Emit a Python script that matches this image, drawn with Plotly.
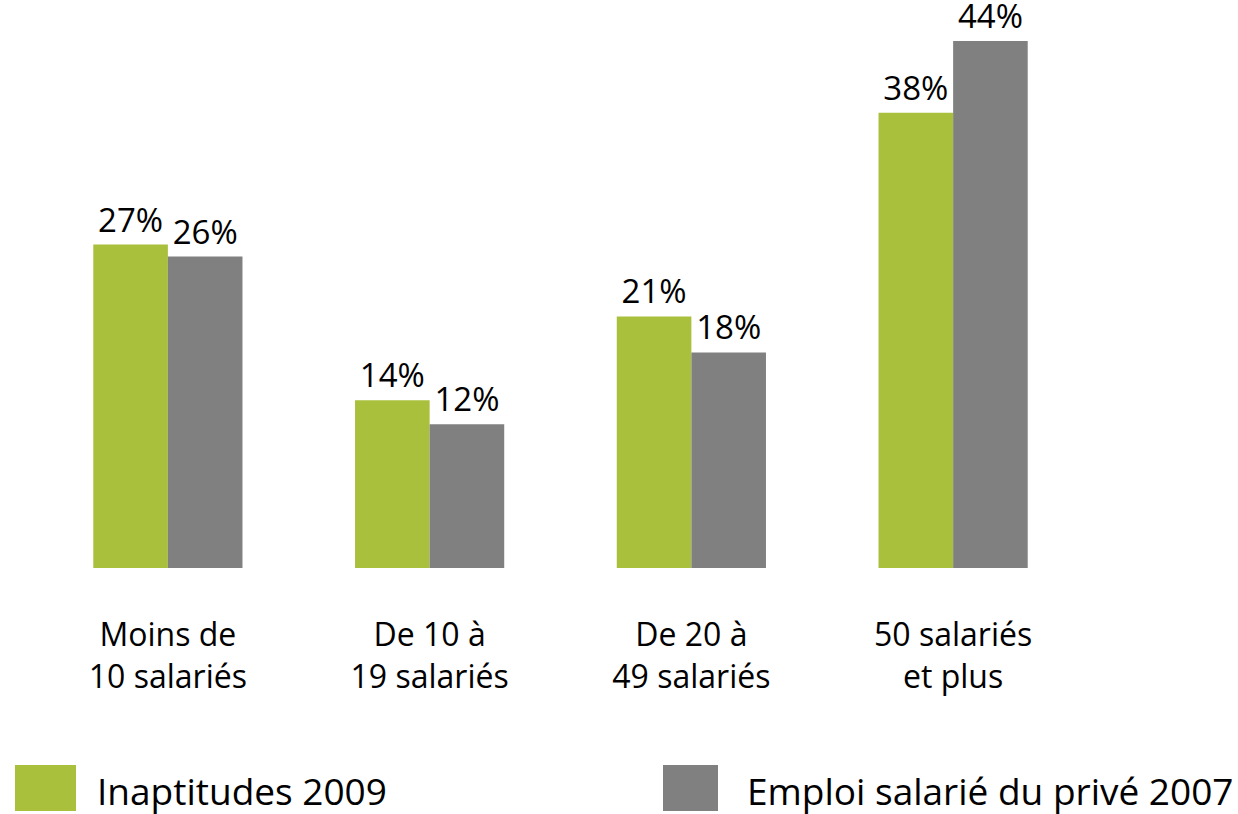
import plotly.graph_objects as go

categories = ["Moins de<br>10 salariés", "De 10 à<br>19 salariés", "De 20 à<br>49 salariés", "50 salariés<br>et plus"]
inaptitudes_2009 = [27, 14, 21, 38]
emploi_2007 = [26, 12, 18, 44]
series_names = ["Inaptitudes 2009", "Emploi salarié du privé 2007"]
GREEN = "#A9C03D"
GRAY = "#808080"
FONT = "Open Sans"

W, H = 1238, 814
ML, MR, MT, MB = 37, 154, 17, 246

def px_x(p):
    return (p - ML) / (W - ML - MR)

def px_y(p):
    return (H - MB - p) / (H - MT - MB)

fig = go.Figure()
for name, vals, col in [(series_names[0], inaptitudes_2009, GREEN), (series_names[1], emploi_2007, GRAY)]:
    fig.add_trace(go.Bar(
        x=list(range(len(categories))), y=vals, name=name,
        marker=dict(color=col, line=dict(width=0)),
        text=[f"{v}%" for v in vals], textposition="outside",
        textfont=dict(family=FONT, size=33, color="black"),
        cliponaxis=False, showlegend=False,
    ))

# custom legend
legend_items = [
    (series_names[0], GREEN, 15, 76, 95),
    (series_names[1], GRAY, 663, 718, 745),
]
for name, col, x0, x1, tx in legend_items:
    fig.add_shape(type="rect", xref="paper", yref="paper",
                  x0=px_x(x0), x1=px_x(x1), y0=px_y(811), y1=px_y(765),
                  fillcolor=col, line=dict(width=0))
    fig.add_annotation(xref="paper", yref="paper", x=px_x(tx), y=px_y(790),
                       text=name, showarrow=False, xanchor="left", yanchor="middle",
                       font=dict(family=FONT, size=37, color="black"))

fig.update_layout(
    width=W, height=H,
    margin=dict(l=ML, r=MR, t=MT, b=MB),
    paper_bgcolor="white", plot_bgcolor="white",
    barmode="group", bargap=0.43, bargroupgap=0,
    xaxis=dict(range=[-0.5, 3.5], tickmode="array", tickvals=list(range(len(categories))),
               ticktext=categories, showgrid=False, zeroline=False, showline=False,
               ticks="", tickfont=dict(family=FONT, size=32, color="black"),
               ticklabelstandoff=45),
    yaxis=dict(range=[0, 46], visible=False),
)

fig.write_html("out.html", config={"displayModeBar": False},
               post_script="document.body.style.margin='0';document.body.style.overflow='hidden';")
